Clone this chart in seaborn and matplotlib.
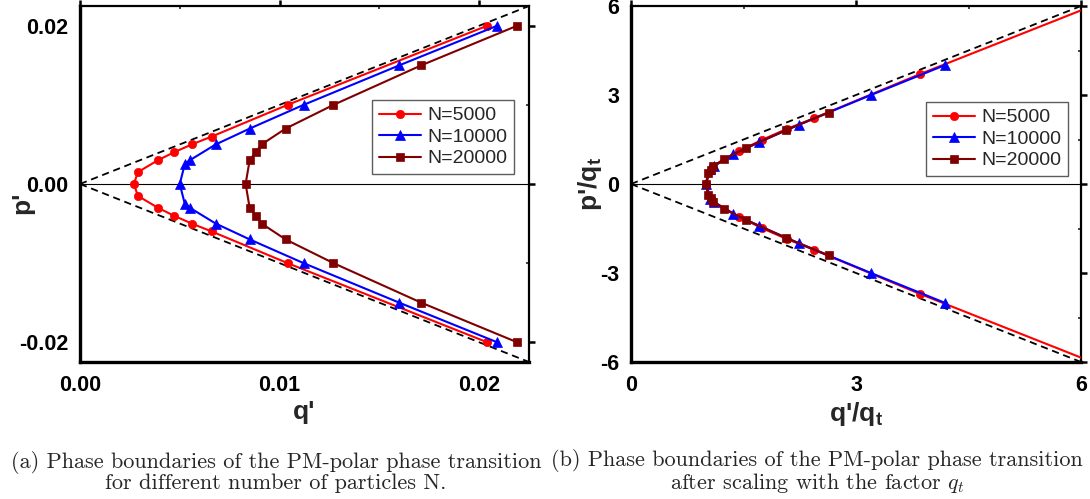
import numpy as np
import pandas as pd
import matplotlib
matplotlib.use("Agg")
import matplotlib.pyplot as plt
from matplotlib.ticker import FixedLocator, FixedFormatter
import seaborn as sns

# Phase boundary points (q', p') for each system size, ordered along the curve
series_names = ["N=5000", "N=10000", "N=20000"]

q_5000 = [0.0204, 0.0104, 0.0066, 0.0056, 0.0047, 0.0039, 0.0029, 0.0027,
          0.0029, 0.0039, 0.0047, 0.0056, 0.0066, 0.0104, 0.0204]
p_5000 = [-0.020, -0.010, -0.006, -0.005, -0.004, -0.003, -0.0015, 0.0,
          0.0015, 0.003, 0.004, 0.005, 0.006, 0.010, 0.020]

q_10000 = [0.0209, 0.0160, 0.0112, 0.0085, 0.0068, 0.0055, 0.00525, 0.0050,
           0.00525, 0.0055, 0.0068, 0.0085, 0.0112, 0.0160, 0.0209]
p_10000 = [-0.020, -0.015, -0.010, -0.007, -0.005, -0.003, -0.0025, 0.0,
           0.0025, 0.003, 0.005, 0.007, 0.010, 0.015, 0.020]

q_20000 = [0.0219, 0.0171, 0.0127, 0.0103, 0.0091, 0.0088, 0.0085, 0.0083,
           0.0085, 0.0088, 0.0091, 0.0103, 0.0127, 0.0171, 0.0219]
p_20000 = [-0.020, -0.015, -0.010, -0.007, -0.005, -0.004, -0.003, 0.0,
           0.003, 0.004, 0.005, 0.007, 0.010, 0.015, 0.020]

# Transition point q_t (boundary position at p' = 0) used for rescaling
q_t = [0.0027, 0.0050, 0.0083]

colors = ["#ff0000", "#0000ff", "#800000"]
markers = ["o", "^", "s"]
marker_sizes = [6.0, 7.0, 5.5]

sns.set_style("white")
plt.rcParams["font.family"] = ["Liberation Sans", "DejaVu Sans"]
plt.rcParams["axes.unicode_minus"] = False
plt.rcParams["mathtext.fontset"] = "custom"
plt.rcParams["mathtext.rm"] = "Liberation Sans:bold"
plt.rcParams["mathtext.it"] = "Liberation Sans:bold"
plt.rcParams["mathtext.bf"] = "Liberation Sans:bold"

frames = []
for name, q, p, qt in zip(series_names,
                          [q_5000, q_10000, q_20000],
                          [p_5000, p_10000, p_20000], q_t):
    d = pd.DataFrame({"q": q, "p": p})
    d["N"] = name
    d["q_scaled"] = d["q"] / qt
    d["p_scaled"] = d["p"] / qt
    frames.append(d)
data = pd.concat(frames, ignore_index=True)

W, H = 1090, 499
fig = plt.figure(figsize=(W / 100, H / 100), dpi=100)
ax_a = fig.add_axes([80 / W, (H - 362) / H, 449 / W, 356 / H])
ax_b = fig.add_axes([631 / W, (H - 362) / H, 450 / W, 356 / H])


def draw_panel(ax, xcol, ycol):
    ax.axhline(0, color="black", lw=0.8, zorder=1)
    ax.axline((0, 0), slope=1, color="black", lw=1.3, ls=(0, (4, 2.6)), zorder=1)
    ax.axline((0, 0), slope=-1, color="black", lw=1.3, ls=(0, (4, 2.6)), zorder=1)
    for name, c, m, ms in zip(series_names, colors, markers, marker_sizes):
        sub = data[data["N"] == name]
        sns.lineplot(data=sub, x=xcol, y=ycol, sort=False, estimator=None,
                     color=c, marker=m, markersize=ms, markeredgecolor=c,
                     markeredgewidth=0.5, lw=1.5, label=name, ax=ax, zorder=3)
    for side in ["left", "bottom"]:
        ax.spines[side].set_linewidth(2.4)
    for side in ["top", "right"]:
        ax.spines[side].set_linewidth(1.6)
    for s in ax.spines.values():
        s.set_color("black")
    ax.tick_params(which="major", direction="out", length=4.5, width=1.8,
                   top=True, right=True, labelsize=15.5, pad=4, colors="black")
    ax.tick_params(axis="x", which="major", pad=5)
    ax.tick_params(which="minor", direction="in", length=2.5, width=1.2,
                   top=True, right=True)
    leg = ax.legend(loc="upper right", fontsize=14, frameon=True, fancybox=False,
                    edgecolor="#333333", handlelength=2.2, handletextpad=0.3,
                    labelspacing=0.2, borderpad=0.35, borderaxespad=0)
    leg.get_frame().set_linewidth(1.0)
    return leg


leg_a = draw_panel(ax_a, "q", "p")
ax_a.set_xlim(0, 0.0225)
ax_a.set_ylim(-0.0225, 0.0225)
ax_a.xaxis.set_major_locator(FixedLocator([0.0, 0.01, 0.02]))
ax_a.xaxis.set_major_formatter(FixedFormatter(["0.00", "0.01", "0.02"]))
ax_a.xaxis.set_minor_locator(FixedLocator([0.005, 0.015]))
ax_a.yaxis.set_major_locator(FixedLocator([-0.02, 0.0, 0.02]))
ax_a.yaxis.set_major_formatter(FixedFormatter(["-0.02", "0.00", "0.02"]))
ax_a.yaxis.set_minor_locator(FixedLocator([-0.01, 0.01]))
leg_a.set_bbox_to_anchor(((514 - 80) / 449, (362 - 100) / 356), transform=ax_a.transAxes)

leg_b = draw_panel(ax_b, "q_scaled", "p_scaled")
ax_b.set_xlim(0, 6)
ax_b.set_ylim(-6, 6)
ax_b.xaxis.set_major_locator(FixedLocator([0, 3, 6]))
ax_b.xaxis.set_major_formatter(FixedFormatter(["0", "3", "6"]))
ax_b.xaxis.set_minor_locator(FixedLocator([1.5, 4.5]))
ax_b.yaxis.set_major_locator(FixedLocator([-6, -3, 0, 3, 6]))
ax_b.yaxis.set_major_formatter(FixedFormatter(["-6", "-3", "0", "3", "6"]))
ax_b.yaxis.set_minor_locator(FixedLocator([-4.5, -1.5, 1.5, 4.5]))
leg_b.set_bbox_to_anchor(((1068 - 631) / 450, (362 - 102) / 356), transform=ax_b.transAxes)

for ax in (ax_a, ax_b):
    for lab in ax.get_xticklabels() + ax.get_yticklabels():
        lab.set_fontweight("bold")

label_kw = dict(fontsize=19, fontweight="bold")
ax_a.set_xlabel("q'", **label_kw)
ax_a.set_ylabel("p'", **label_kw)
ax_b.set_xlabel("q'/q$_\\mathregular{t}$", **label_kw)
ax_b.set_ylabel("p'/q$_\\mathregular{t}$", **label_kw)
ax_a.xaxis.set_label_coords(0.5, -0.108)
ax_b.xaxis.set_label_coords(0.5, -0.108)
ax_a.yaxis.set_label_coords(-0.103, 0.446)
ax_b.yaxis.set_label_coords(-0.060, 0.5)

cap_kw = dict(fontsize=16, family="cmr10", ha="center", va="center",
              multialignment="center", linespacing=0.95, math_fontfamily="cm")
fig.text(276 / W, 1 - 472 / H,
         "(a) Phase boundaries of the PM-polar phase transition\n"
         "for different number of particles N.", **cap_kw)
fig.text(817 / W, 1 - 472 / H,
         "(b) Phase boundaries of the PM-polar phase transition\n"
         "after scaling with the factor $q_t$", **cap_kw)

fig.savefig("out.png", dpi=100)
